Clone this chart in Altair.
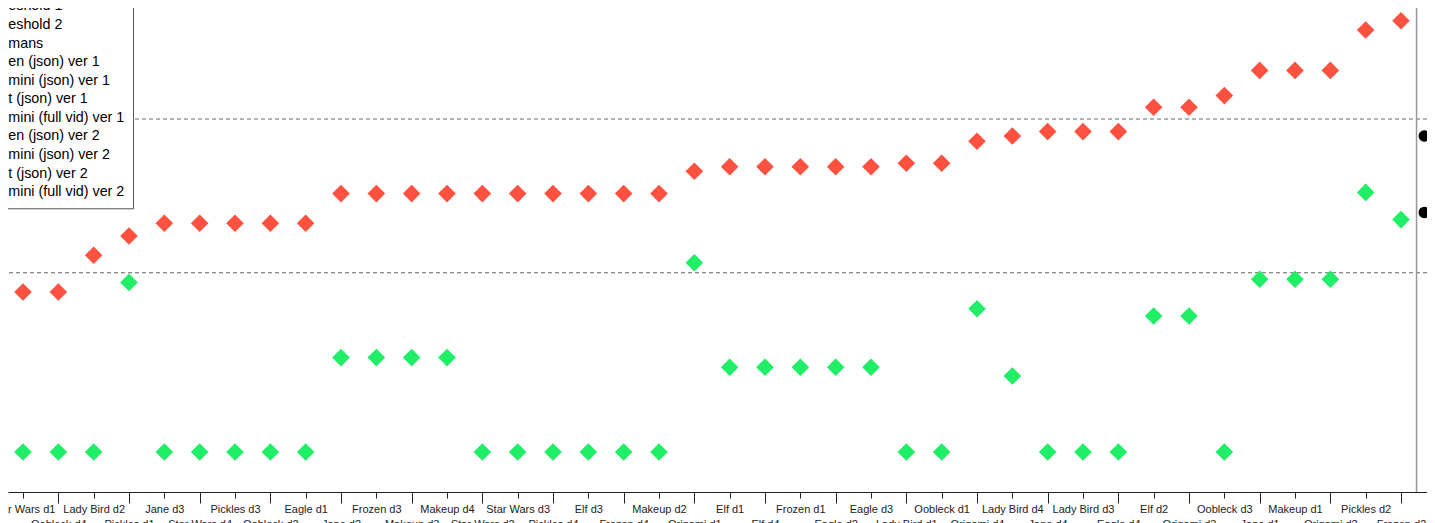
import json
import altair as alt
import pandas as pd

categories = [
    "Star Wars d1", "Oobleck d4", "Lady Bird d2", "Pickles d1", "Jane d3",
    "Star Wars d4", "Pickles d3", "Oobleck d2", "Eagle d1", "Jane d2",
    "Frozen d3", "Makeup d3", "Makeup d4", "Star Wars d2", "Star Wars d3",
    "Pickles d4", "Elf d3", "Frozen d4", "Makeup d2", "Origami d1",
    "Elf d1", "Elf d4", "Frozen d1", "Eagle d2", "Eagle d3",
    "Lady Bird d1", "Oobleck d1", "Origami d4", "Lady Bird d4", "Jane d4",
    "Lady Bird d3", "Eagle d4", "Elf d2", "Origami d3", "Oobleck d3",
    "Jane d1", "Makeup d1", "Origami d2", "Pickles d2", "Frozen d2",
]

red_values = [
    4.0, 4.0, 4.92, 5.4, 5.72, 5.72, 5.72, 5.72, 5.72, 6.46,
    6.46, 6.46, 6.46, 6.46, 6.46, 6.46, 6.46, 6.46, 6.46, 7.02,
    7.13, 7.13, 7.13, 7.13, 7.13, 7.22, 7.22, 7.77, 7.9, 8.01,
    8.01, 8.01, 8.62, 8.62, 8.91, 9.54, 9.54, 9.54, 10.55, 10.78,
]

green_values = [
    0.0, 0.0, 0.0, 4.24, 0.0, 0.0, 0.0, 0.0, 0.0, 2.36,
    2.36, 2.36, 2.36, 0.0, 0.0, 0.0, 0.0, 0.0, 0.0, 4.73,
    2.12, 2.12, 2.12, 2.12, 2.12, 0.0, 0.0, 3.58, 1.9, 0.0,
    0.0, 0.0, 3.4, 3.4, 0.0, 4.32, 4.32, 4.32, 6.49, 5.81,
]

human_values = [7.9, 5.99]
human_x = [39.66, 39.66]
separator_x = [39.44]
threshold_values = [4.48, 8.325]

series_names = [
    "eshold 1", "eshold 2", "mans",
    "en (json) ver 1", "mini (json) ver 1", "t (json) ver 1", "mini (full vid) ver 1",
    "en (json) ver 2", "mini (json) ver 2", "t (json) ver 2", "mini (full vid) ver 2",
]
series_colors = [
    "#666666", "#666666", "#000000",
    "#4c72b0", "#fe5140", "#8172b2", "#ccb974",
    "#64b5cd", "#1fee66", "#937860", "#da8bc3",
]
red_series = series_names[4]
green_series = series_names[8]

rows = []
for i in range(len(categories)):
    rows.append({"x": i, "value": red_values[i], "series": red_series})
    rows.append({"x": i, "value": green_values[i], "series": green_series})
points = pd.DataFrame(rows)
humans = pd.DataFrame({"x": human_x, "value": human_values, "series": ["mans", "mans"]})
thresholds = pd.DataFrame({"value": threshold_values, "series": series_names[:2]})
sep = pd.DataFrame({"x": separator_x})

x_scale = alt.Scale(domain=[-0.4245, 39.736], nice=False, zero=False)
y_scale = alt.Scale(domain=[-1.0, 11.1], nice=False, zero=False)
color_scale = alt.Scale(domain=series_names, range=series_colors)

odd_test = "datum.value % 2 == 1"
x_axis = alt.Axis(
    values=list(range(len(categories))),
    labelExpr=json.dumps(categories) + "[datum.value]",
    title=None,
    grid=False,
    labelAngle=0,
    labelAlign="center",
    labelBaseline="top",
    labelFont="Liberation Sans",
    labelFontSize=11,
    labelColor="#222222",
    labelOverlap=False,
    labelFlush=False,
    tickColor="#222222",
    domainColor="#222222",
    tickSize={"condition": {"test": odd_test, "value": 11}, "value": 6},
    labelPadding={"condition": {"test": odd_test, "value": 15.5}, "value": 5},
)

legend = alt.Legend(
    orient="none",
    legendX=-22,
    legendY=-16.7,
    title=None,
    labelFont="Liberation Sans",
    labelFontSize=14.3,
    labelColor="#000000",
    labelLimit=400,
    labelOffset=0,
    fillColor="white",
    strokeColor="#555555",
    padding=8,
    rowPadding=3.57,
    symbolSize=0,
    symbolStrokeWidth=0,
    direction="vertical",
)

color_enc = alt.Color("series:N", scale=color_scale, legend=legend)

rules = alt.Chart(thresholds).mark_rule(strokeDash=[4, 3], strokeWidth=1.1).encode(
    y=alt.Y("value:Q", scale=y_scale, axis=None),
    color=color_enc,
)

separator = alt.Chart(sep).mark_rule(color="#999999", strokeWidth=1.5).encode(
    x=alt.X("x:Q", scale=x_scale, axis=x_axis),
)

diamonds = alt.Chart(points).mark_point(
    shape="diamond", filled=True, size=310, opacity=1
).encode(
    x=alt.X("x:Q", scale=x_scale, axis=x_axis),
    y=alt.Y("value:Q", scale=y_scale, axis=None),
    color=color_enc,
)

human_pts = alt.Chart(humans).mark_circle(size=133, opacity=1).encode(
    x=alt.X("x:Q", scale=x_scale, axis=x_axis),
    y=alt.Y("value:Q", scale=y_scale, axis=None),
    color=color_enc,
)

chart = alt.layer(rules, separator, diamonds, human_pts).properties(
    width=1419,
    height=484,
    autosize=alt.AutoSizeParams(type="none"),
    padding={"left": 0, "top": 0, "right": 0, "bottom": 40},
).configure_view(strokeWidth=0)

chart.save("out.html", embed_options={"renderer": "svg", "actions": False})
